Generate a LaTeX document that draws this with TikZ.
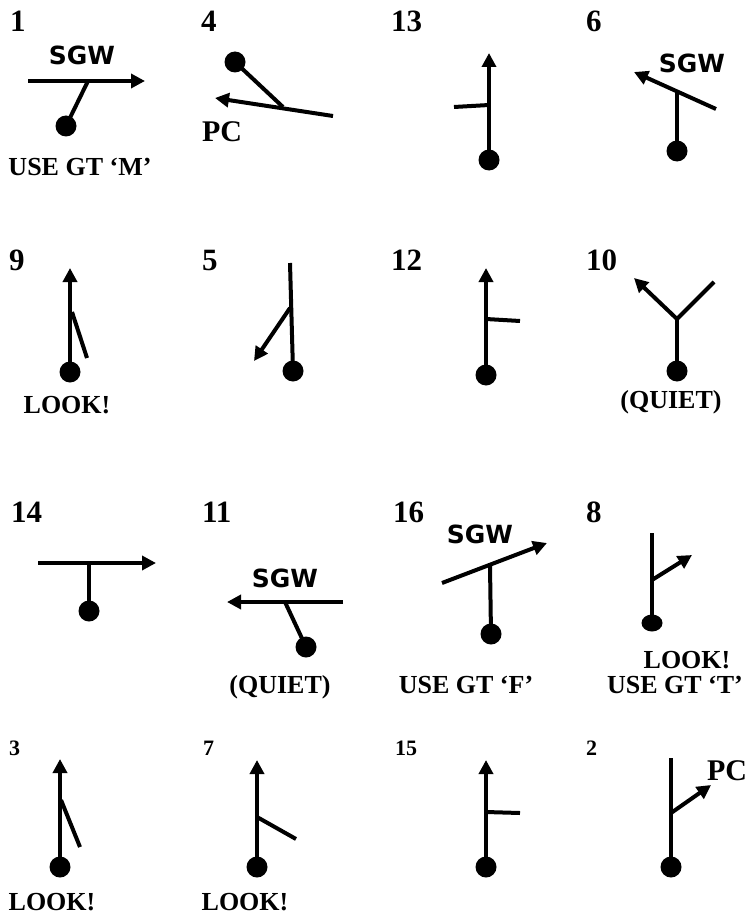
\documentclass[tikz,border=0pt]{standalone}
\usepackage{fontspec}
\setmainfont{Liberation Serif}
\newfontfamily\sgwfont{DejaVu Sans}
\usetikzlibrary{arrows.meta,shapes.geometric}
\tikzset{
  num/.style={anchor=base west, inner sep=0pt, font=\fontsize{31}{31}\selectfont\bfseries},
  smallnum/.style={anchor=base west, inner sep=0pt, font=\fontsize{22}{22}\selectfont\bfseries},
  lbl/.style={anchor=base, inner sep=0pt, font=\fontsize{26}{26}\selectfont\bfseries},
  pclbl/.style={anchor=base, inner sep=0pt, font=\fontsize{30}{30}\selectfont\bfseries},
  sgw/.style={anchor=base, inner sep=0pt, font=\sgwfont\fontsize{25}{25}\selectfont\bfseries},
  ball/.style={circle, fill=black, minimum size=21pt, inner sep=0pt},
  flatball/.style={ellipse, fill=black, minimum width=21pt, minimum height=17pt, inner sep=0pt},
  seg/.style={line width=4pt},
  arr/.style={line width=4pt, -{Triangle[length=14pt,width=14pt]}},
}
\begin{document}
\begin{tikzpicture}[x=1pt,y=-1pt]
\useasboundingbox (0,0) rectangle (748,915);
% ---------- Row 1 ----------
% 1
\node[num] (n1) at (10,32) {1};
\node[sgw] (s1) at (82,65) {SGW};
\coordinate (a1s) at (28,81); \coordinate (a1e) at (145,81); \coordinate (j1) at (88,81);
\node[ball] (b1) at (66,126) {};
\draw[arr] (a1s) -- (a1e);
\draw[seg] (b1.center) -- (j1);
\node[lbl] (l1) at (80,175) {USE GT ‘M’};
% 4
\node[num] (n4) at (201,32) {4};
\node[ball] (b4) at (235,62) {};
\coordinate (j4) at (283,107); \coordinate (a4s) at (333,116); \coordinate (a4e) at (215,98);
\draw[seg] (b4.center) -- (j4);
\draw[arr] (a4s) -- (a4e);
\node[pclbl] (p4) at (222,142) {PC};
% 13
\node[num] (n13) at (391,32) {13};
\node[ball] (b13) at (489,160) {};
\coordinate (a13e) at (489,53); \coordinate (j13) at (489,105); \coordinate (t13) at (454,107);
\draw[arr] (b13.center) -- (a13e);
\draw[seg] (t13) -- (j13);
% 6
\node[num] (n6) at (586,32) {6};
\node[sgw] (s6) at (692,73) {SGW};
\coordinate (a6s) at (716,109); \coordinate (a6e) at (634,72); \coordinate (j6) at (677,92);
\node[ball] (b6) at (677,151) {};
\draw[arr] (a6s) -- (a6e);
\draw[seg] (b6.center) -- (j6);
% ---------- Row 2 ----------
% 9
\node[num] (n9) at (9,270) {9};
\node[ball] (b9) at (70,372) {};
\coordinate (a9e) at (70,268); \coordinate (j9) at (72,312); \coordinate (t9) at (87,358);
\draw[arr] (b9.center) -- (a9e);
\draw[seg] (j9) -- (t9);
\node[lbl] (l9) at (67,413) {LOOK!};
% 5
\node[num] (n5) at (202,270) {5};
\node[ball] (b5) at (293,371) {};
\coordinate (t5) at (290,263); \coordinate (j5) at (290,308); \coordinate (a5e) at (254,361);
\draw[seg] (b5.center) -- (t5);
\draw[arr] (j5) -- (a5e);
% 12
\node[num] (n12) at (391,270) {12};
\node[ball] (b12) at (486,375) {};
\coordinate (a12e) at (486,268); \coordinate (j12) at (486,319); \coordinate (t12) at (520,321);
\draw[arr] (b12.center) -- (a12e);
\draw[seg] (j12) -- (t12);
% 10
\node[num] (n10) at (586,270) {10};
\node[ball] (b10) at (677,371) {};
\coordinate (j10) at (677,319); \coordinate (a10e) at (634,278); \coordinate (t10) at (714,282);
\draw[seg] (b10.center) -- (j10);
\draw[arr] (j10) -- (a10e);
\draw[seg] (j10) -- (t10);
\node[lbl] (l10) at (671,408) {(QUIET)};
% ---------- Row 3 ----------
% 14
\node[num] (n14) at (11,522) {14};
\coordinate (a14s) at (38,563); \coordinate (a14e) at (156,563); \coordinate (j14) at (89,563);
\node[ball] (b14) at (89,611) {};
\draw[arr] (a14s) -- (a14e);
\draw[seg] (b14.center) -- (j14);
% 11
\node[num] (n11) at (202,522) {11};
\node[sgw] (s11) at (285,587) {SGW};
\coordinate (a11s) at (343,602); \coordinate (a11e) at (227,602); \coordinate (j11) at (285,602);
\node[ball] (b11) at (306,647) {};
\draw[arr] (a11s) -- (a11e);
\draw[seg] (b11.center) -- (j11);
\node[lbl] (l11) at (280,693) {(QUIET)};
% 16
\node[num] (n16) at (393,522) {16};
\node[sgw] (s16) at (480,543) {SGW};
\coordinate (a16s) at (442,583); \coordinate (a16e) at (547,543); \coordinate (j16) at (490,566);
\node[ball] (b16) at (491,634) {};
\draw[arr] (a16s) -- (a16e);
\draw[seg] (b16.center) -- (j16);
\node[lbl] (l16) at (466,693) {USE GT ‘F’};
% 8
\node[num] (n8) at (586,522) {8};
\node[flatball] (b8) at (652,623) {};
\coordinate (t8) at (652,533); \coordinate (j8) at (652,580); \coordinate (a8e) at (692,555);
\draw[seg] (b8.center) -- (t8);
\draw[arr] (j8) -- (a8e);
\node[lbl] (l8a) at (687,668) {LOOK!};
\node[lbl] (l8b) at (675,693) {USE GT ‘T’};
% ---------- Row 4 ----------
% 3
\node[smallnum] (n3) at (9,755) {3};
\node[ball] (b3) at (60,867) {};
\coordinate (a3e) at (60,759); \coordinate (j3) at (61,800); \coordinate (t3) at (80,847);
\draw[arr] (b3.center) -- (a3e);
\draw[seg] (j3) -- (t3);
\node[lbl] (l3) at (52,910) {LOOK!};
% 7
\node[smallnum] (n7) at (203,755) {7};
\node[ball] (b7) at (257,867) {};
\coordinate (a7e) at (257,760); \coordinate (j7) at (257,817); \coordinate (t7) at (296,839);
\draw[arr] (b7.center) -- (a7e);
\draw[seg] (j7) -- (t7);
\node[lbl] (l7) at (245,910) {LOOK!};
% 15
\node[smallnum] (n15) at (395,755) {15};
\node[ball] (b15) at (486,867) {};
\coordinate (a15e) at (486,760); \coordinate (j15) at (486,812); \coordinate (t15) at (520,813);
\draw[arr] (b15.center) -- (a15e);
\draw[seg] (j15) -- (t15);
% 2
\node[smallnum] (n2) at (586,755) {2};
\node[ball] (b2) at (671,867) {};
\coordinate (t2) at (671,758); \coordinate (j2) at (671,813); \coordinate (a2e) at (711,785);
\draw[seg] (b2.center) -- (t2);
\draw[arr] (j2) -- (a2e);
\node[pclbl] (p2) at (727,780) {PC};
\end{tikzpicture}
\end{document}
